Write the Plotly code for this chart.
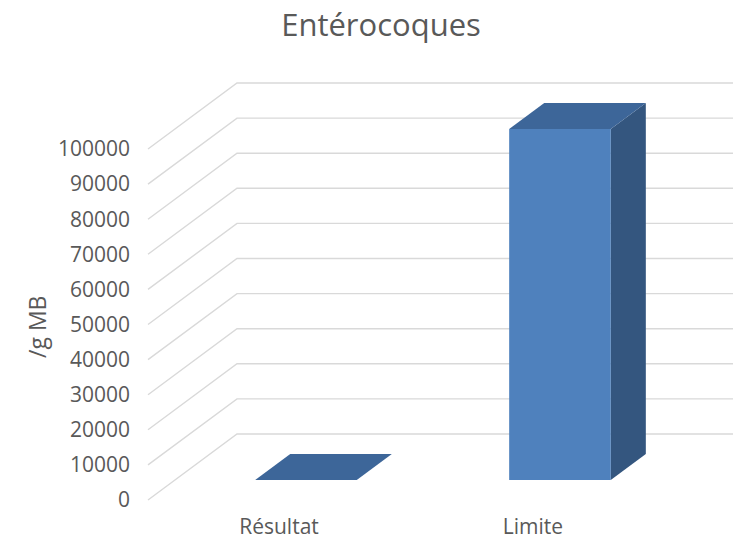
import plotly.graph_objects as go

# ---- data ----
categories = ["Résultat", "Limite"]
values = [10, 100000]
tick_values = list(range(0, 100001, 10000))
title_text = "Entérocoques"
y_title = "/g MB"

# ---- layout geometry (pixels of the 733x542 page) ----
W, H = 733, 542
PLOT_L, PLOT_R, PLOT_T, PLOT_B = 133, 733, 60, 512
CAT_PX = 254.0          # pixels per category
CAT0_PX = 279.0         # pixel x of category 0 at front depth
UNIT_PX = 351.0 / 100000  # pixels per value unit
ZERO_PX = 500.0         # pixel y of value 0 at front depth

x_range = [(PLOT_L - CAT0_PX) / CAT_PX, (PLOT_R - CAT0_PX) / CAT_PX]
y_range = [(ZERO_PX - PLOT_B) / UNIT_PX, (ZERO_PX - PLOT_T) / UNIT_PX]

DX = 89.0 / CAT_PX      # depth shift (x) for full floor depth, in category units
DY = 66.0 / UNIT_PX     # depth shift (y) for full floor depth, in value units
XL = (148.0 - CAT0_PX) / CAT_PX  # left wall front edge
HALF_W = 0.2
D1, D2 = 20.0 / 66.0, 46.0 / 66.0


def proj(x, v, d):
    return x + d * DX, v + d * DY


FONT = "Open Sans"
TXT = "#595959"
GRID = "#d9d9d9"
FRONT, TOP, SIDE = "#4F81BD", "#3D6699", "#34567F"

fig = go.Figure()

# gridlines: left wall diagonal + back wall horizontal
gx, gy = [], []
for v in tick_values:
    p0 = proj(XL, v, 0)
    p1 = proj(XL, v, 1)
    gx += [p0[0], p1[0], x_range[1], None]
    gy += [p0[1], p1[1], p1[1], None]
fig.add_trace(go.Scatter(x=gx, y=gy, mode="lines",
                         line=dict(color=GRID, width=1.4),
                         hoverinfo="skip", showlegend=False))


def face(pts, color, name, val):
    xs = [p[0] for p in pts] + [pts[0][0]]
    ys = [p[1] for p in pts] + [pts[0][1]]
    fig.add_trace(go.Scatter(x=xs, y=ys, mode="lines", fill="toself",
                             fillcolor=color, line=dict(width=0, color=color),
                             name=name, text=f"{name}: {val}", hoverinfo="text",
                             showlegend=False))


for i, (cat, v) in enumerate(zip(categories, values)):
    a, b = i - HALF_W, i + HALF_W
    side = [proj(b, 0, D1), proj(b, 0, D2), proj(b, v, D2), proj(b, v, D1)]
    top = [proj(a, v, D1), proj(b, v, D1), proj(b, v, D2), proj(a, v, D2)]
    front = [proj(a, 0, D1), proj(b, 0, D1), proj(b, v, D1), proj(a, v, D1)]
    face(side, SIDE, cat, v)
    face(front, FRONT, cat, v)
    face(top, TOP, cat, v)

fig.update_layout(
    width=W, height=H,
    margin=dict(l=PLOT_L, r=W - PLOT_R, t=PLOT_T, b=H - PLOT_B, pad=0,
                autoexpand=False),
    paper_bgcolor="white", plot_bgcolor="white",
    font=dict(family=FONT, color=TXT),
    title=dict(text=title_text, x=381 / W, xanchor="center",
               y=1 - 25 / H, yanchor="middle",
               font=dict(family=FONT, size=31, color=TXT)),
    xaxis=dict(range=x_range, showgrid=False, zeroline=False, showline=False,
               automargin=False,
               tickmode="array", tickvals=list(range(len(categories))),
               ticktext=categories, ticks="",
               tickfont=dict(family=FONT, size=21, color=TXT), fixedrange=True),
    yaxis=dict(range=y_range, showgrid=False, zeroline=False, showline=False,
               automargin=False,
               tickmode="array", tickvals=tick_values,
               ticktext=[str(t) for t in tick_values], ticks="",
               ticklabelstandoff=2,
               tickfont=dict(family=FONT, size=21, color=TXT), fixedrange=True),
    annotations=[dict(text=y_title, textangle=-90, showarrow=False,
                      xref="paper", yref="paper",
                      x=(37 - PLOT_L) / (PLOT_R - PLOT_L),
                      y=(PLOT_B - 327) / (PLOT_B - PLOT_T),
                      xanchor="center", yanchor="middle",
                      font=dict(family=FONT, size=23, color=TXT))],
)

fig.write_html("out.html")
